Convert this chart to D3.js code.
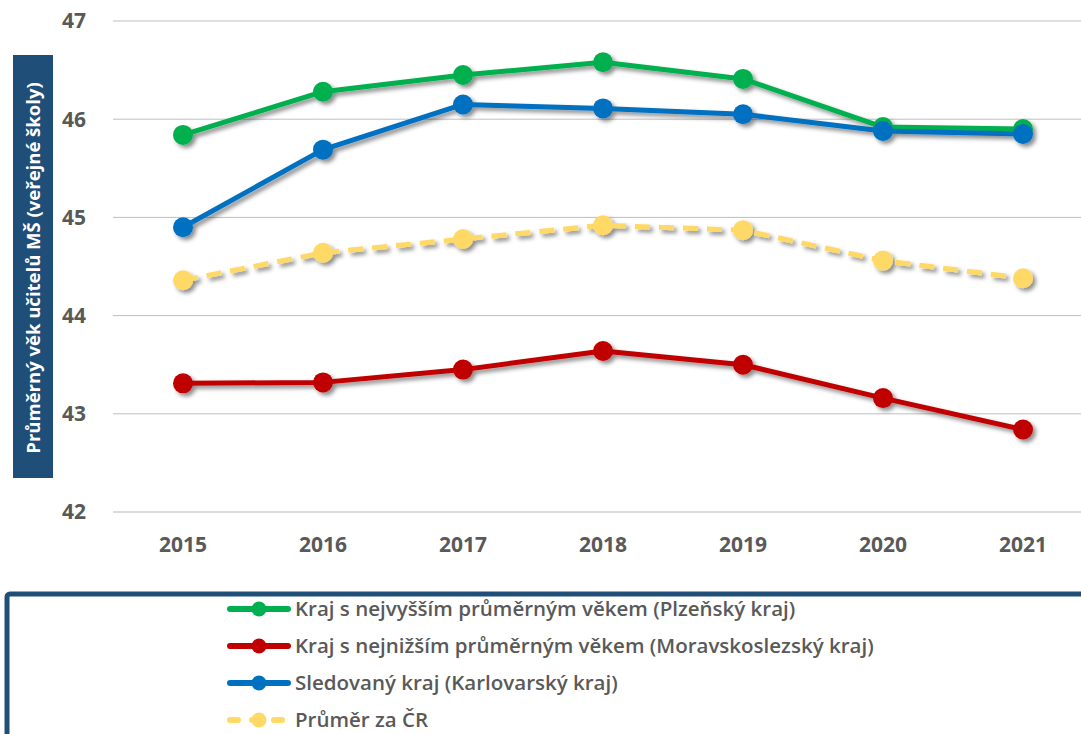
<!DOCTYPE html>
<html lang="cs">
<head>
<meta charset="UTF-8">
<title>Průměrný věk učitelů MŠ</title>
<script src="https://d3js.org/d3.v7.min.js"></script>
<style>
    body { margin: 0; background: #fff; }
    svg { display: block; font-family: "Open Sans", "DejaVu Sans", sans-serif; }
</style>
</head>
<body>
<div id="chart"></div>
<script>
    // data
    const years = ["2015", "2016", "2017", "2018", "2019", "2020", "2021"];
    const plzensky = [45.84, 46.28, 46.45, 46.58, 46.41, 45.92, 45.90];
    const moravskoslezsky = [43.31, 43.32, 43.45, 43.64, 43.50, 43.16, 42.84];
    const karlovarsky = [44.90, 45.69, 46.15, 46.11, 46.05, 45.88, 45.85];
    const prumerCR = [44.36, 44.64, 44.78, 44.92, 44.87, 44.56, 44.38];
    const yTicks = [42, 43, 44, 45, 46, 47];

    const series = [
        { name: "Kraj s nejvyšším průměrným věkem (Plzeňský kraj)", values: plzensky, color: "#00B050", dash: null },
        { name: "Kraj s nejnižším průměrným věkem (Moravskoslezský kraj)", values: moravskoslezsky, color: "#C00000", dash: null },
        { name: "Sledovaný kraj (Karlovarský kraj)", values: karlovarsky, color: "#0070C0", dash: null },
        { name: "Průměr za ČR", values: prumerCR, color: "#FFD966", dash: "15,9" }
    ];
    // green sits under blue at 2020-21
    const drawOrder = [3, 1, 0, 2];

    const width = 1081, height = 734;
    const svg = d3.select("#chart").append("svg")
        .attr("width", width).attr("height", height);

    const defs = svg.append("defs");
    const f = defs.append("filter").attr("id", "shadow")
        .attr("x", "-20%").attr("y", "-20%").attr("width", "140%").attr("height", "160%");
    f.append("feDropShadow").attr("dx", 3).attr("dy", 3).attr("stdDeviation", 2.2)
        .attr("flood-color", "#000").attr("flood-opacity", 0.45);

    const x = d3.scalePoint().domain(years).range([183, 1023]);
    const y = d3.scaleLinear().domain([42, 47]).range([512, 21]);

    // gridlines
    svg.append("g").selectAll("line").data(yTicks).join("line")
        .attr("x1", 113).attr("x2", 1093)
        .attr("y1", d => y(d)).attr("y2", d => y(d))
        .attr("stroke", d => d === 42 ? "#d0d0d0" : "#bfbfbf").attr("stroke-width", d => d === 42 ? 1.5 : 1);

    // y tick labels
    svg.append("g").selectAll("text").data(yTicks).join("text")
        .attr("x", 86).attr("y", d => y(d)).attr("dy", "0.35em")
        .attr("text-anchor", "end")
        .attr("font-size", 21).attr("font-weight", "bold").attr("fill", "#595959")
        .text(d => d);

    // x tick labels
    svg.append("g").selectAll("text").data(years).join("text")
        .attr("x", d => x(d)).attr("y", 552)
        .attr("text-anchor", "middle")
        .attr("font-size", 21).attr("font-weight", "bold").attr("fill", "#595959")
        .text(d => d);

    // y axis title box
    svg.append("rect").attr("x", 13).attr("y", 55).attr("width", 40).attr("height", 423)
        .attr("fill", "#1F4E79");
    svg.append("text")
        .attr("transform", "translate(40," + 268 + ") rotate(-90)")
        .attr("text-anchor", "middle")
        .attr("font-size", 18.5).attr("font-weight", "bold").attr("fill", "#fff")
        .text("Průměrný věk učitelů MŠ (veřejné školy)");

    const line = d3.line().x((d, i) => x(years[i])).y(d => y(d));

    const g = svg.append("g").attr("filter", "url(#shadow)");
    drawOrder.forEach(k => {
        const s = series[k];
        const sg = g.append("g");
        sg.append("path").datum(s.values)
            .attr("d", line).attr("fill", "none")
            .attr("stroke", s.color).attr("stroke-width", 5)
            .attr("stroke-dasharray", s.dash)
            .attr("stroke-linejoin", "round");
        sg.selectAll("circle").data(s.values).join("circle")
            .attr("cx", (d, i) => x(years[i])).attr("cy", d => y(d))
            .attr("r", 10).attr("fill", s.color);
    });

    // legend
    svg.append("rect").attr("x", 7).attr("y", 594).attr("width", 1090).attr("height", 160)
        .attr("fill", "none").attr("stroke", "#1F4E79").attr("stroke-width", 5).attr("rx", 3);

    const leg = svg.append("g");
    series.forEach((s, i) => {
        const ly = 609 + i * 37;
        const row = leg.append("g");
        row.append("line").attr("x1", 230).attr("x2", 288).attr("y1", ly).attr("y2", ly)
            .attr("stroke", s.color).attr("stroke-width", 6).attr("stroke-linecap", "round")
            .attr("stroke-dasharray", s.dash ? "8,14" : null);
        row.append("circle").attr("cx", 259).attr("cy", ly).attr("r", 7.5).attr("fill", s.color);
        row.append("text").attr("x", 295).attr("y", ly).attr("dy", "0.35em")
            .attr("font-size", 20.5).attr("font-weight", 600).attr("fill", "#595959")
            .text(s.name);
    });
</script>
</body>
</html>
